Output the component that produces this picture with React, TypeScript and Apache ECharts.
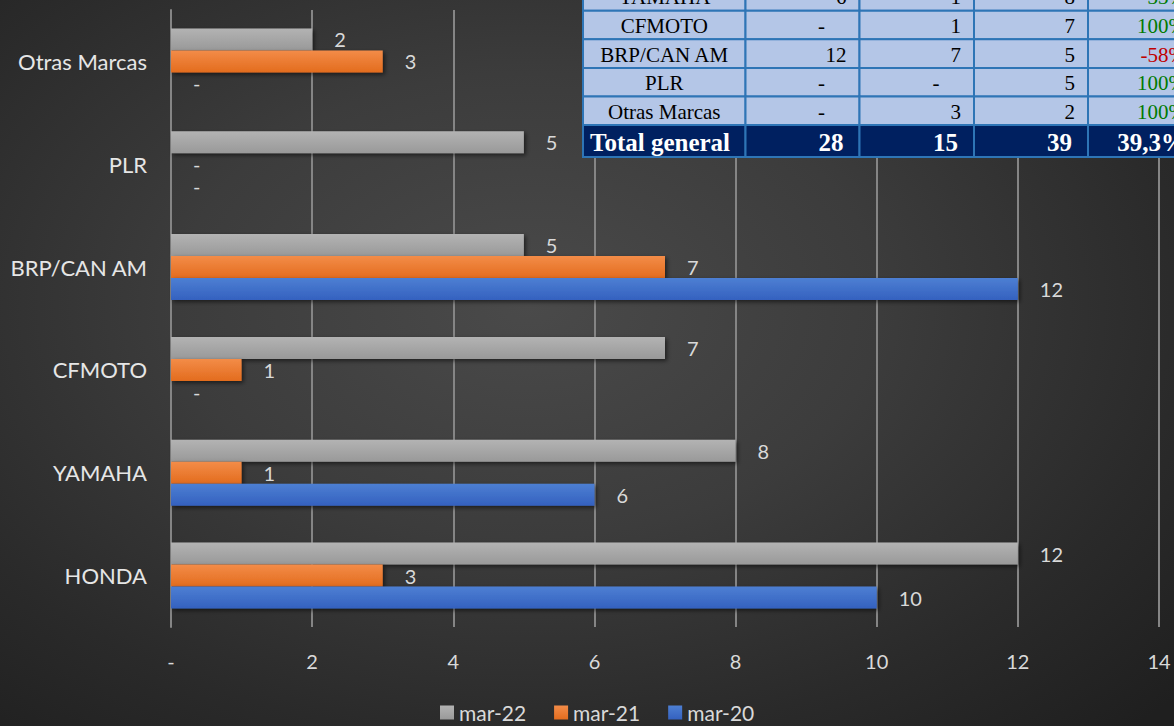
import React, { useEffect, useRef } from "react";
import * as echarts from "echarts";

// ---- Data ----
const categories = ["HONDA", "YAMAHA", "CFMOTO", "BRP/CAN AM", "PLR", "Otras Marcas"];
const seriesNames = ["mar-22", "mar-21", "mar-20"];
const mar22 = [12, 8, 7, 5, 5, 2];
const mar21 = [3, 1, 1, 7, 0, 3];
const mar20 = [10, 6, 0, 12, 0, 0];
const xMin = 0;
const xMax = 14;
const xInterval = 2;

// Table (top right, partially cropped)
const tableBrands = ["YAMAHA", "CFMOTO", "BRP/CAN AM", "PLR", "Otras Marcas"];
const tablePct = ["33%", "100%", "-58%", "100%", "100%"];
const totalLabel = "Total general";
const totalPct = "39,3%";

const fmt = (v: number) => (v === 0 ? "-" : String(v));

const FONT = "Lato, 'Open Sans', sans-serif";
const SERIF = "'Liberation Serif', 'DejaVu Serif', serif";

function buildTable(): any[] {
  const cols = [583, 745.5, 859.5, 974, 1088, 1202];
  const rowH = 28.6;
  const firstTop = 10.7 - rowH;
  const els: any[] = [];
  const border = "#2e75b6";
  const cellBg = "#b4c6e7";
  const txt = (text: string, x: number, y: number, font: string, fill: string, align: string) => ({
    type: "text",
    x,
    y,
    z: 101,
    style: {
      text,
      font,
      fill,
      align,
      verticalAlign: "middle",
      textAlign: align,
      textVerticalAlign: "middle",
    },
  });
  tableBrands.forEach((b, i) => {
    const top = firstTop + i * rowH;
    const ci = categories.indexOf(b);
    const vals = [mar20[ci], mar21[ci], mar22[ci]];
    for (let c = 0; c < 5; c++) {
      els.push({
        type: "rect",
        z: 100,
        shape: { x: cols[c], y: top, width: cols[c + 1] - cols[c], height: rowH },
        style: { fill: cellBg, stroke: border, lineWidth: 2 },
      });
    }
    const cy = top + rowH / 2 + 1;
    const f = `21px ${SERIF}`;
    els.push(txt(b, (cols[0] + cols[1]) / 2, cy, f, "#000000", "center"));
    vals.forEach((v, k) => {
      const right = cols[k + 2];
      if (v === 0) {
        els.push(txt("-", right - 38, cy, f, "#000000", "center"));
      } else {
        els.push(txt(String(v), right - 13, cy, f, "#000000", "right"));
      }
    });
    const pct = tablePct[i];
    els.push(txt(pct, cols[5] - 16, cy, f, pct.startsWith("-") ? "#c00000" : "#007a00", "right"));
  });
  // total row
  const tTop = firstTop + tableBrands.length * rowH;
  const tH = 32;
  for (let c = 0; c < 5; c++) {
    els.push({
      type: "rect",
      z: 100,
      shape: { x: cols[c], y: tTop, width: cols[c + 1] - cols[c], height: tH },
      style: { fill: "#002060", stroke: border, lineWidth: 2 },
    });
  }
  const tcy = tTop + tH / 2 + 1;
  const bf = `bold 25px ${SERIF}`;
  const sum = (a: number[]) => a.reduce((s, v) => s + v, 0);
  els.push(txt(totalLabel, cols[0] + 7, tcy, bf, "#ffffff", "left"));
  [sum(mar20), sum(mar21), sum(mar22)].forEach((v, k) => {
    els.push(txt(String(v), cols[k + 2] - 16, tcy, bf, "#ffffff", "right"));
  });
  els.push(txt(totalPct, cols[5] - 16, tcy, bf, "#ffffff", "right"));
  return els;
}

function barGradient(top: string, bottom: string) {
  return new echarts.graphic.LinearGradient(0, 0, 0, 1, [
    { offset: 0, color: top },
    { offset: 1, color: bottom },
  ]);
}

export default function App() {
  const ref = useRef<HTMLDivElement>(null);
  useEffect(() => {
    document.body.style.margin = "0";
    if (!ref.current) return;
    const chart = echarts.init(ref.current, null, { renderer: "svg" });
    const colors = [
      { top: "#b3b3b3", bottom: "#999999", legend: "#a5a5a5" },
      { top: "#f38c48", bottom: "#e36c1e", legend: "#ed7d31" },
      { top: "#4d7fd3", bottom: "#3461bf", legend: "#4472c4" },
    ];
    const datas = [mar22, mar21, mar20];
    const series = seriesNames.map((name, i) => ({
      name,
      type: "bar",
      data: datas[i],
      barWidth: 22,
      barGap: "0%",
      itemStyle: {
        color: barGradient(colors[i].top, colors[i].bottom),
        shadowColor: "rgba(0,0,0,0.55)",
        shadowBlur: 4,
        shadowOffsetX: 2,
        shadowOffsetY: 2,
      },
      label: {
        show: true,
        position: "right",
        distance: 22,
        color: "#d9d9d9",
        fontFamily: FONT,
        fontSize: 20,
        formatter: (p: any) => fmt(p.value),
      },
    }));
    chart.setOption({
      animation: false,
      backgroundColor: "transparent",
      color: colors.map((c) => c.legend),
      grid: { left: 171, right: 15, top: 10, bottom: 99, containLabel: false },
      legend: {
        data: seriesNames,
        left: 440,
        top: 702,
        padding: 0,
        itemWidth: 14,
        itemHeight: 14,
        itemGap: 28,
        icon: "rect",
        textStyle: { color: "#d9d9d9", fontFamily: FONT, fontSize: 21 },
      },
      xAxis: {
        type: "value",
        min: xMin,
        max: xMax,
        interval: xInterval,
        axisLine: { show: false },
        axisTick: { show: false },
        splitLine: { show: true, lineStyle: { color: "#858585", width: 2 } },
        axisLabel: {
          color: "#d9d9d9",
          fontFamily: FONT,
          fontSize: 20,
          margin: 24,
          formatter: (v: number) => fmt(v),
        },
      },
      yAxis: {
        type: "category",
        data: categories,
        axisLine: { show: true, lineStyle: { color: "#858585", width: 2 } },
        axisTick: { show: false },
        axisLabel: {
          color: "#e6e6e6",
          fontFamily: FONT,
          fontSize: 22,
          margin: 24,
        },
      },
      graphic: { elements: buildTable() },
      series,
    });
    return () => chart.dispose();
  }, []);
  return (
    <div
      ref={ref}
      style={{
        position: "absolute",
        left: 0,
        top: 0,
        width: 1174,
        height: 726,
        background:
          "radial-gradient(ellipse 75% 80% at 45% 42%, #4a4a4a 0%, #3c3c3c 40%, #2a2a2a 75%, #1f1f1f 100%)",
      }}
    />
  );
}
